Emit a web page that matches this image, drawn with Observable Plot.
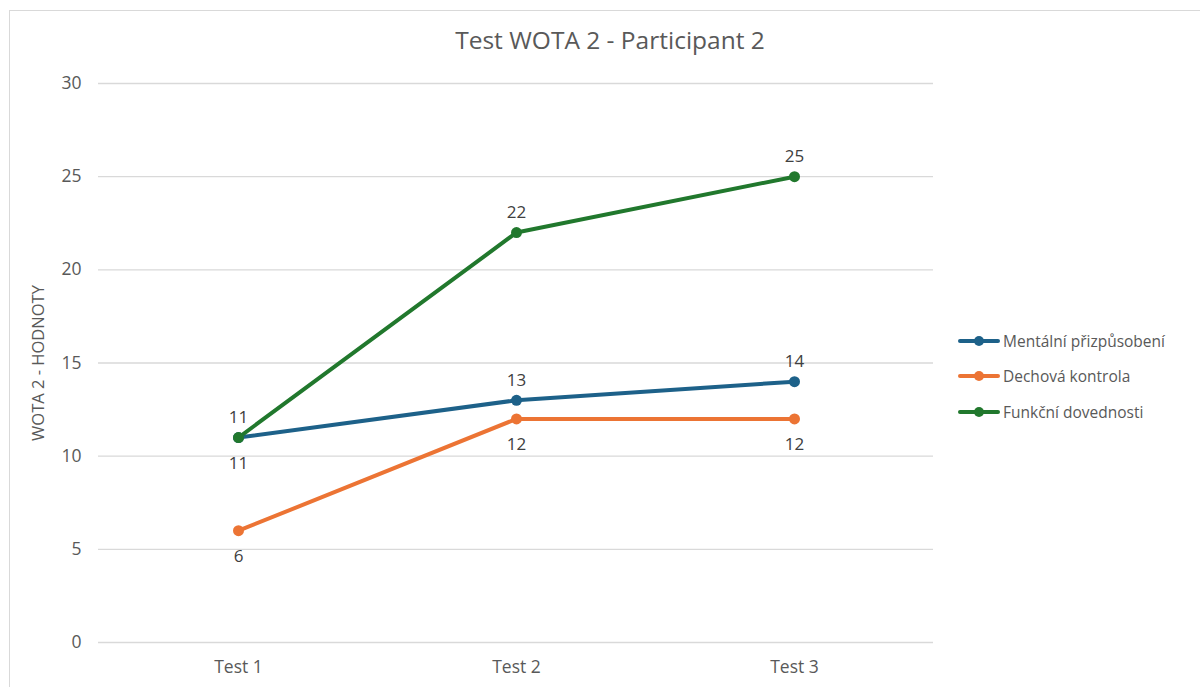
<!DOCTYPE html>
<html>
<head>
<meta charset="utf-8">
<script src="https://cdn.jsdelivr.net/npm/d3@7"></script>
<script src="https://cdn.jsdelivr.net/npm/@observablehq/plot@0.6"></script>
<style>
  html, body { margin: 0; padding: 0; background: #fff; }
  body { width: 1200px; height: 687px; overflow: hidden; position: relative; font-family: "Open Sans", sans-serif; }
  #frame { position: absolute; left: 9px; top: 10px; width: 1300px; height: 800px; border: 1.5px solid #d9d9d9; box-sizing: border-box; }
  #title { position: absolute; left: 0; width: 1220px; top: 28px; line-height: 1; text-align: center; font-size: 24.5px; color: #595959; }
  #chart { position: absolute; left: 0; top: 0; }
  #legend { position: absolute; left: 958px; top: 323px; font-size: 15.5px; color: #595959; }
  .li { display: flex; align-items: center; height: 35.5px; }
  .li svg { margin-right: 3px; }
</style>
</head>
<body>
<div id="frame"></div>
<div id="title">Test WOTA 2 - Participant 2</div>
<div id="chart"></div>
<div id="legend"></div>
<script>
const categories = ["Test 1", "Test 2", "Test 3"];
const seriesNames = ["Mentální přizpůsobení", "Dechová kontrola", "Funkční dovednosti"];
const mentalni = [11, 13, 14];
const dechova = [6, 12, 12];
const funkcni = [11, 22, 25];
const yTicks = [0, 5, 10, 15, 20, 25, 30];
const colors = ["#1d6189", "#ec7434", "#21782d"];

const values = [mentalni, dechova, funkcni];
const data = [];
seriesNames.forEach((s, i) => {
  categories.forEach((c, j) => {
    const v = values[i][j];
    // label below for orange, and for blue where it coincides with green
    const below = i === 1 || (i === 0 && v === funkcni[j]);
    data.push({series: s, test: c, value: v, below});
  });
});

const color = {domain: seriesNames, range: colors};

const chart = Plot.plot({
  width: 1200,
  height: 687,
  marginTop: 83,
  marginBottom: 45,
  marginLeft: 98,
  marginRight: 267,
  style: {fontFamily: "'Open Sans', sans-serif", background: "transparent"},
  x: {type: "point", domain: categories, padding: 0.5, label: null},
  y: {domain: [0, 30], ticks: yTicks, label: null},
  color,
  marks: [
    Plot.ruleY(yTicks, {stroke: "#d9d9d9", strokeWidth: 1.4}),
    Plot.axisY({ticks: yTicks, tickSize: 0, tickPadding: 17, fontSize: 17.5, color: "#595959", label: null}),
    Plot.axisX({tickSize: 0, tickPadding: 18, fontSize: 17.5, color: "#595959", label: null}),
    Plot.text(["WOTA 2 - HODNOTY"], {frameAnchor: "left", textAnchor: "middle", dx: -60, rotate: -90, fontSize: 16.5, fill: "#595959"}),
    Plot.line(data, {x: "test", y: "value", z: "series", stroke: "series", strokeWidth: 4}),
    Plot.dot(data, {x: "test", y: "value", fill: "series", r: 5.5}),
    Plot.text(data.filter(d => !d.below), {x: "test", y: "value", text: d => String(d.value), dy: -20, fontSize: 17, fill: "#404040"}),
    Plot.text(data.filter(d => d.below), {x: "test", y: "value", text: d => String(d.value), dy: 26, fontSize: 17, fill: "#404040"})
  ]
});
document.getElementById("chart").appendChild(chart);

const legend = document.getElementById("legend");
seriesNames.forEach((s, i) => {
  const row = document.createElement("div");
  row.className = "li";
  row.innerHTML = `<svg width="42" height="12"><line x1="2" x2="40" y1="6" y2="6" stroke="${colors[i]}" stroke-width="4" stroke-linecap="round"/><circle cx="21" cy="6" r="5" fill="${colors[i]}"/></svg><span>${s}</span>`;
  legend.appendChild(row);
});
</script>
</body>
</html>
